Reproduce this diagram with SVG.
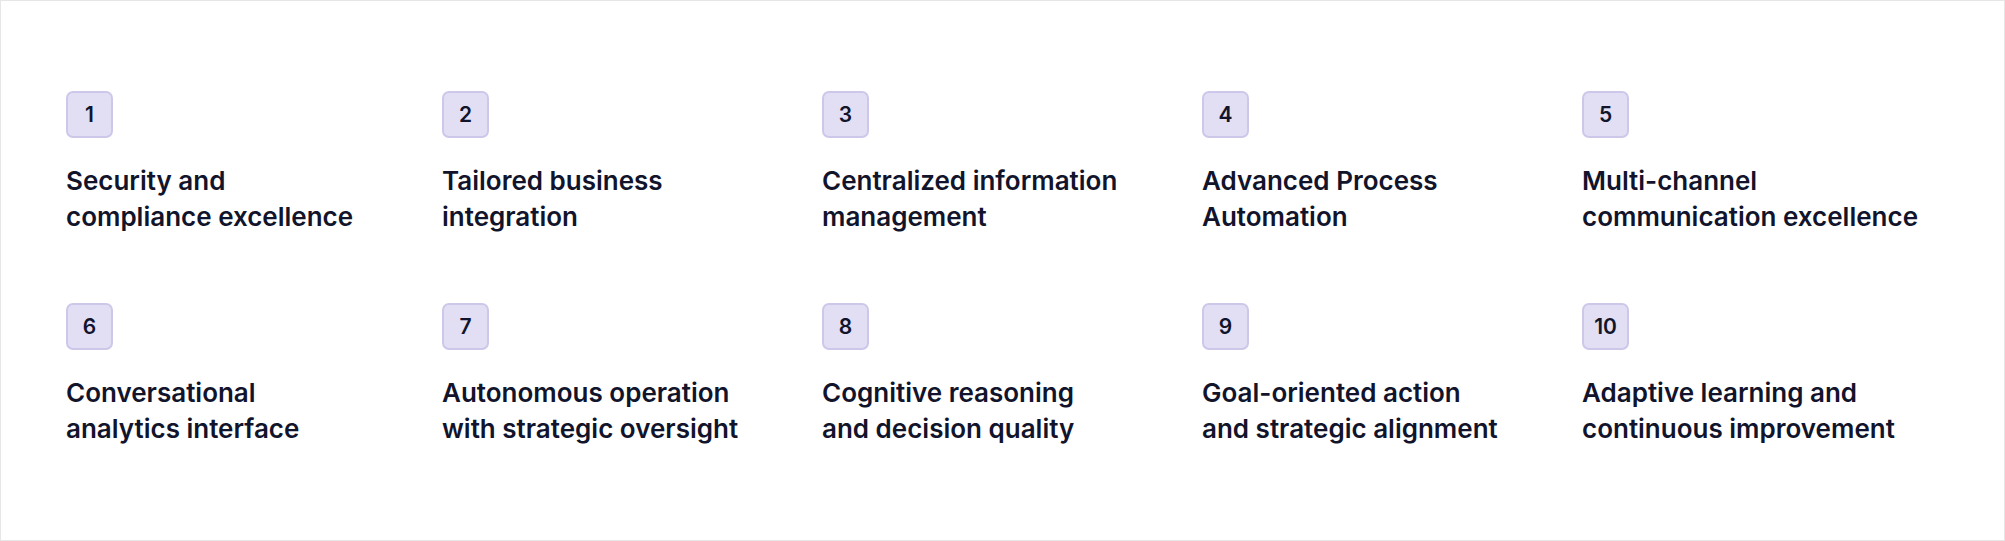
<svg xmlns="http://www.w3.org/2000/svg" width="2005" height="541" viewBox="0 0 2005 541">
<style>
.b{fill:#e2dff4;stroke:#cdc8ea;stroke-width:2}
.n{font-family:Inter,"Liberation Sans",sans-serif;font-weight:600;font-size:21px;fill:#11142b;text-anchor:middle}
.t{font-family:Inter,"Liberation Sans",sans-serif;font-weight:600;font-size:26px;fill:#11142b}
</style>
<rect x="0.5" y="0.5" width="2004" height="540" fill="#fff" stroke="#e6e6e6"/>
<g id="connectors"/>
<g id="n1"><rect class="b" x="67" y="92" width="45" height="45" rx="6"/><text class="n" x="89.5" y="122">1</text><text class="t" x="66" y="190">Security and</text><text class="t" x="66" y="226">compliance excellence</text></g>
<g id="n2"><rect class="b" x="443" y="92" width="45" height="45" rx="6"/><text class="n" x="465.5" y="122">2</text><text class="t" x="442" y="190">Tailored business</text><text class="t" x="442" y="226">integration</text></g>
<g id="n3"><rect class="b" x="823" y="92" width="45" height="45" rx="6"/><text class="n" x="845.5" y="122">3</text><text class="t" x="822" y="190">Centralized information</text><text class="t" x="822" y="226">management</text></g>
<g id="n4"><rect class="b" x="1203" y="92" width="45" height="45" rx="6"/><text class="n" x="1225.5" y="122">4</text><text class="t" x="1202" y="190">Advanced Process</text><text class="t" x="1202" y="226">Automation</text></g>
<g id="n5"><rect class="b" x="1583" y="92" width="45" height="45" rx="6"/><text class="n" x="1605.5" y="122">5</text><text class="t" x="1582" y="190">Multi-channel</text><text class="t" x="1582" y="226">communication excellence</text></g>
<g id="n6"><rect class="b" x="67" y="304" width="45" height="45" rx="6"/><text class="n" x="89.5" y="334">6</text><text class="t" x="66" y="402">Conversational</text><text class="t" x="66" y="438">analytics interface</text></g>
<g id="n7"><rect class="b" x="443" y="304" width="45" height="45" rx="6"/><text class="n" x="465.5" y="334">7</text><text class="t" x="442" y="402">Autonomous operation</text><text class="t" x="442" y="438">with strategic oversight</text></g>
<g id="n8"><rect class="b" x="823" y="304" width="45" height="45" rx="6"/><text class="n" x="845.5" y="334">8</text><text class="t" x="822" y="402">Cognitive reasoning</text><text class="t" x="822" y="438">and decision quality</text></g>
<g id="n9"><rect class="b" x="1203" y="304" width="45" height="45" rx="6"/><text class="n" x="1225.5" y="334">9</text><text class="t" x="1202" y="402">Goal-oriented action</text><text class="t" x="1202" y="438">and strategic alignment</text></g>
<g id="n10"><rect class="b" x="1583" y="304" width="45" height="45" rx="6"/><text class="n" x="1605.5" y="334">10</text><text class="t" x="1582" y="402">Adaptive learning and</text><text class="t" x="1582" y="438">continuous improvement</text></g>
</svg>
